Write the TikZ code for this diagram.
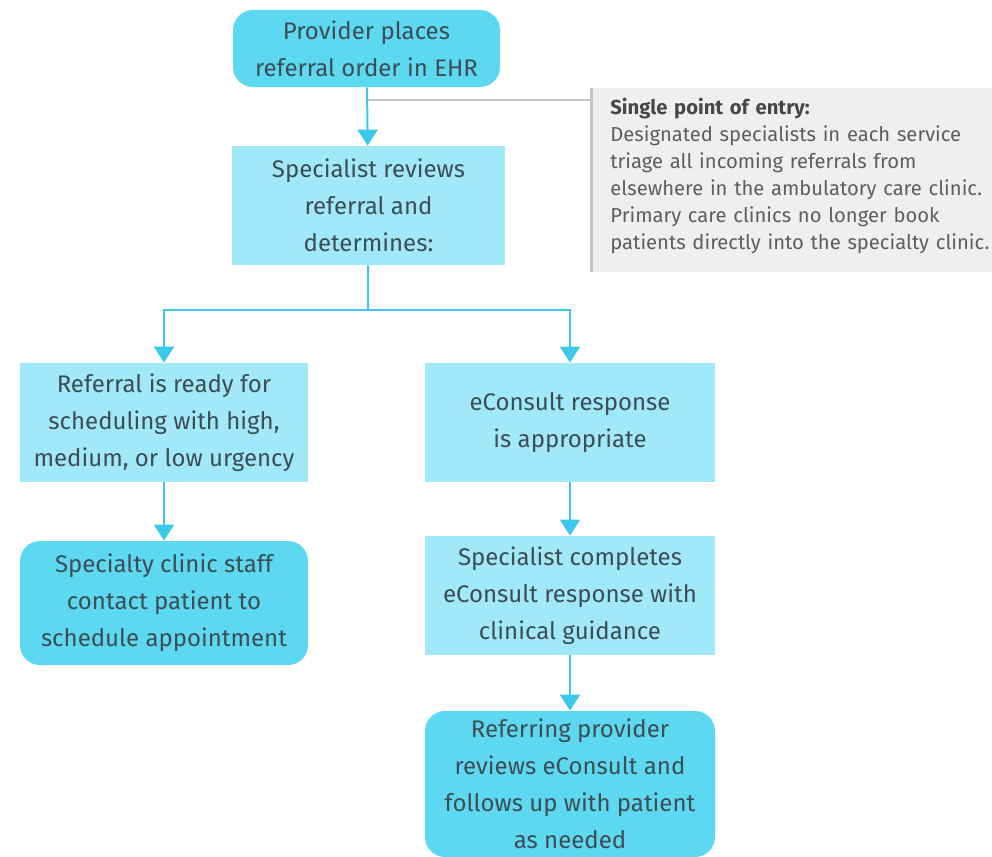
\documentclass[tikz,border=0pt]{standalone}
\usepackage{fontspec}
\setmainfont{Fira Sans}
\usetikzlibrary{arrows.meta}
\definecolor{darkcyan}{HTML}{5DD8F1}
\definecolor{lightcyan}{HTML}{A1E9F9}
\definecolor{arrowcyan}{HTML}{3CC8EA}
\definecolor{textgray}{HTML}{3C4D53}
\definecolor{notefill}{HTML}{EFEFEF}
\definecolor{noteedge}{HTML}{C4C4C4}
\definecolor{notetext}{HTML}{5E5E5E}
\begin{document}
\begin{tikzpicture}[x=0.5pt,y=-0.5pt,
  stepbox/.style={fill=lightcyan, text=textgray, align=center, inner sep=0pt,
    font=\fontsize{12}{18.5}\selectfont},
  endbox/.style={stepbox, fill=darkcyan, rounded corners=10pt},
  flow/.style={draw=arrowcyan, line width=1pt, -{Triangle[width=10pt,length=8pt]}},
  link/.style={draw=arrowcyan, line width=1pt},
  noteline/.style={draw=noteedge, line width=1pt}]
\useasboundingbox (0,0) rectangle (992,857);
\node [endbox, minimum width=133.5pt, minimum height=38.5pt] (order) at (366.5,48.5)
  {Provider places\\referral order in EHR};
\node [stepbox, minimum width=136.5pt, minimum height=59.5pt] (review) at (368.5,205.5)
  {Specialist reviews\\referral and\\determines:};
\node [stepbox, minimum width=144pt, minimum height=59.5pt] (ready) at (164,422.5)
  {Referral is ready for\\scheduling with high,\\medium, or low urgency};
\node [stepbox, minimum width=145pt, minimum height=59.5pt] (econsult) at (570,422.5)
  {eConsult response\\is appropriate};
\node [endbox, minimum width=144pt, minimum height=62pt] (staff) at (164,603)
  {Specialty clinic staff\\contact patient to\\schedule appointment};
\node [stepbox, minimum width=145pt, minimum height=59.5pt] (complete) at (570,595.5)
  {Specialist completes\\eConsult response with\\clinical guidance};
\node [endbox, minimum width=145pt, minimum height=73pt] (followup) at (570,784)
  {Referring provider\\reviews eConsult and\\follows up with patient\\as needed};
\node [fill=notefill, minimum width=200pt, minimum height=92pt, inner sep=0pt] (notebg) at (792,180) {};
\node [anchor=west, inner sep=0pt, text width=195pt, text=notetext, align=left,
  font=\fontsize{10.1}{13.5}\selectfont] (note) at (610,176)
  {\textbf{\color{black!72}Single point of entry:}\\Designated specialists in each service\\triage all incoming referrals from\\elsewhere in the ambulatory care clinic.\\Primary care clinics no longer book\\patients directly into the specialty clinic.};
\draw [noteedge, line width=1.5pt] (notebg.north west) -- (notebg.south west);
\coordinate (entry) at (368,100);
\coordinate (split) at (368,310);
\draw [flow] (order) -- (review);
\draw [noteline] (entry) -- (entry -| notebg.west);
\draw [link] (review) -- (split);
\draw [flow] (split) -| (ready);
\draw [flow] (split) -| (econsult);
\draw [flow] (ready) -- (staff);
\draw [flow] (econsult) -- (complete);
\draw [flow] (complete) -- (followup);
\end{tikzpicture}
\end{document}
